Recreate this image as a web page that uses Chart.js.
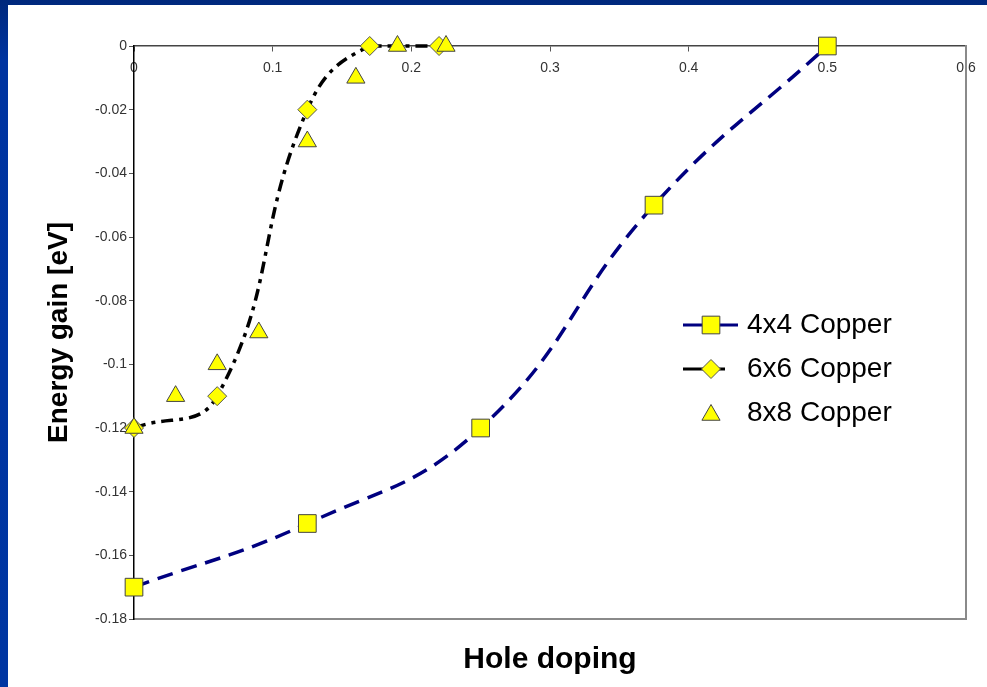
<!DOCTYPE html>
<html lang="en">

<head>
    <meta charset="UTF-8">
    <title>Energy gain vs. Hole doping</title>
    <script src="https://cdn.jsdelivr.net/npm/chart.js"></script>
    <style>
        body {
            margin: 0;
            width: 987px;
            height: 687px;
            overflow: hidden;
            background: linear-gradient(#00287c 0, #0034a0 60px, #0036a2 100%);
        }
        #wrap {
            position: absolute;
            left: 8px;
            top: 5px;
            width: 979px;
            height: 682px;
            background: #ffffff;
        }
    </style>
</head>

<body>
    <div id="wrap"><canvas id="energyChart" width="979" height="682"></canvas></div>

    <script>
        // values
        const seriesNames = ['4x4 Copper', '6x6 Copper', '8x8 Copper'];

        const doping4 = [0, 0.125, 0.25, 0.375, 0.5];
        const energy4 = [-0.17, -0.15, -0.12, -0.05, 0];

        const doping6 = [0, 0.06, 0.125, 0.17, 0.22];
        const energy6 = [-0.12, -0.11, -0.02, 0, 0];

        const doping8 = [0, 0.03, 0.06, 0.09, 0.125, 0.16, 0.19, 0.225];
        const energy8 = [-0.12, -0.11, -0.1, -0.09, -0.03, -0.01, 0, 0];

        const xTicks = [0, 0.1, 0.2, 0.3, 0.4, 0.5, 0.6];
        const yTicks = [0, -0.02, -0.04, -0.06, -0.08, -0.1, -0.12, -0.14, -0.16, -0.18];

        const toPoints = (xs, ys) => xs.map((x, i) => ({ x: x, y: ys[i] }));
        const fixTicks = values => scale => { scale.ticks = values.map(v => ({ value: v })); };

        // legend drawn inside the plot area, excel style
        const insideLegend = {
            id: 'insideLegend',
            afterDraw(chart) {
                const ctx = chart.ctx;
                const area = chart.chartArea;
                const x0 = area.left + 549;
                const rows = [320, 364, 408];
                ctx.save();
                chart.data.datasets.forEach((ds, i) => {
                    const y = rows[i];
                    if (ds.showLine !== false) {
                        ctx.strokeStyle = ds.borderColor;
                        ctx.lineWidth = 3;
                        ctx.setLineDash([]);
                        ctx.beginPath();
                        ctx.moveTo(x0, y);
                        ctx.lineTo(i === 0 ? x0 + 55 : x0 + 42, y);
                        ctx.stroke();
                    }
                    ctx.fillStyle = ds.pointBackgroundColor;
                    ctx.strokeStyle = ds.pointBorderColor;
                    ctx.lineWidth = 1;
                    Chart.helpers.drawPoint(ctx, {
                        pointStyle: ds.pointStyle,
                        radius: ds.pointRadius,
                        borderWidth: 1
                    }, x0 + 28, i === 2 ? y + 2 : y);
                    ctx.fillStyle = '#000000';
                    ctx.font = '28px Arial, "Liberation Sans", sans-serif';
                    ctx.textAlign = 'left';
                    ctx.textBaseline = 'middle';
                    ctx.fillText(ds.label, x0 + 64, y);
                });
                ctx.restore();
            }
        };

        const ctx = document.getElementById('energyChart').getContext('2d');
        new Chart(ctx, {
            type: 'scatter',
            data: {
                datasets: [{
                    label: seriesNames[0],
                    data: toPoints(doping4, energy4),
                    showLine: true,
                    tension: 0.45,
                    borderColor: '#000080',
                    borderWidth: 3.5,
                    borderDash: [16, 9],
                    pointStyle: 'rect',
                    pointRadius: 12.5,
                    pointBackgroundColor: '#ffff00',
                    pointBorderColor: '#444444',
                    pointBorderWidth: 1,
                    clip: false,
                    order: 2
                }, {
                    label: seriesNames[1],
                    data: toPoints(doping6, energy6),
                    showLine: true,
                    tension: 0.45,
                    borderColor: '#000000',
                    borderWidth: 3.5,
                    borderDash: [12, 6, 4, 6],
                    pointStyle: 'rectRot',
                    pointRadius: 9.5,
                    pointBackgroundColor: '#ffff00',
                    pointBorderColor: '#555555',
                    pointBorderWidth: 1,
                    clip: false,
                    order: 1
                }, {
                    label: seriesNames[2],
                    data: toPoints(doping8, energy8),
                    showLine: false,
                    pointStyle: 'triangle',
                    pointRadius: 10.5,
                    pointBackgroundColor: '#ffff00',
                    pointBorderColor: '#444444',
                    pointBorderWidth: 1,
                    clip: false,
                    order: 0
                }]
            },
            options: {
                responsive: false,
                animation: false,
                layout: { padding: { top: 41, right: 0, bottom: 0, left: 0 } },
                scales: {
                    x: {
                        type: 'linear',
                        axis: 'x',
                        position: { y: 0 },
                        min: 0,
                        max: 0.6,
                        afterBuildTicks: fixTicks(xTicks),
                        grid: {
                            drawOnChartArea: false,
                            drawTicks: true,
                            tickLength: 5,
                            color: '#555555'
                        },
                        border: { color: '#444444', width: 1.5 },
                        ticks: {
                            autoSkip: false,
                            maxRotation: 0,
                            padding: 9,
                            color: '#333333',
                            font: { family: 'Arial, "Liberation Sans", sans-serif', size: 14 },
                            callback: v => String(v)
                        }
                    },
                    x2: {
                        type: 'linear',
                        axis: 'x',
                        position: 'bottom',
                        min: 0,
                        max: 0.6,
                        grid: { display: false },
                        border: { color: '#8a8a8a', width: 2 },
                        ticks: { display: false },
                        afterFit: scale => { scale.height = 68; },
                        title: {
                            display: true,
                            text: 'Hole doping',
                            color: '#000000',
                            padding: { top: 0, bottom: 9 },
                            font: { family: 'Arial, "Liberation Sans", sans-serif', size: 30, weight: 'bold' }
                        }
                    },
                    y: {
                        type: 'linear',
                        position: 'left',
                        min: -0.18,
                        max: 0,
                        afterBuildTicks: fixTicks(yTicks),
                        afterFit: scale => { scale.width = 126; },
                        grid: {
                            drawOnChartArea: false,
                            drawTicks: true,
                            tickLength: 5,
                            color: '#555555'
                        },
                        border: { color: '#000000', width: 1.5 },
                        ticks: {
                            padding: 2,
                            color: '#333333',
                            font: { family: 'Arial, "Liberation Sans", sans-serif', size: 14 },
                            callback: v => String(v)
                        },
                        title: {
                            display: true,
                            text: 'Energy gain [eV]',
                            color: '#000000',
                            padding: { top: 34, bottom: 0 },
                            font: { family: 'Arial, "Liberation Sans", sans-serif', size: 28, weight: 'bold' }
                        }
                    },
                    y2: {
                        type: 'linear',
                        position: 'right',
                        min: -0.18,
                        max: 0,
                        grid: { display: false },
                        border: { color: '#8a8a8a', width: 2 },
                        ticks: { display: false },
                        afterFit: scale => { scale.width = 21; }
                    }
                },
                plugins: {
                    legend: { display: false },
                    tooltip: { enabled: false }
                }
            },
            plugins: [insideLegend]
        });
    </script>

</body>

</html>
